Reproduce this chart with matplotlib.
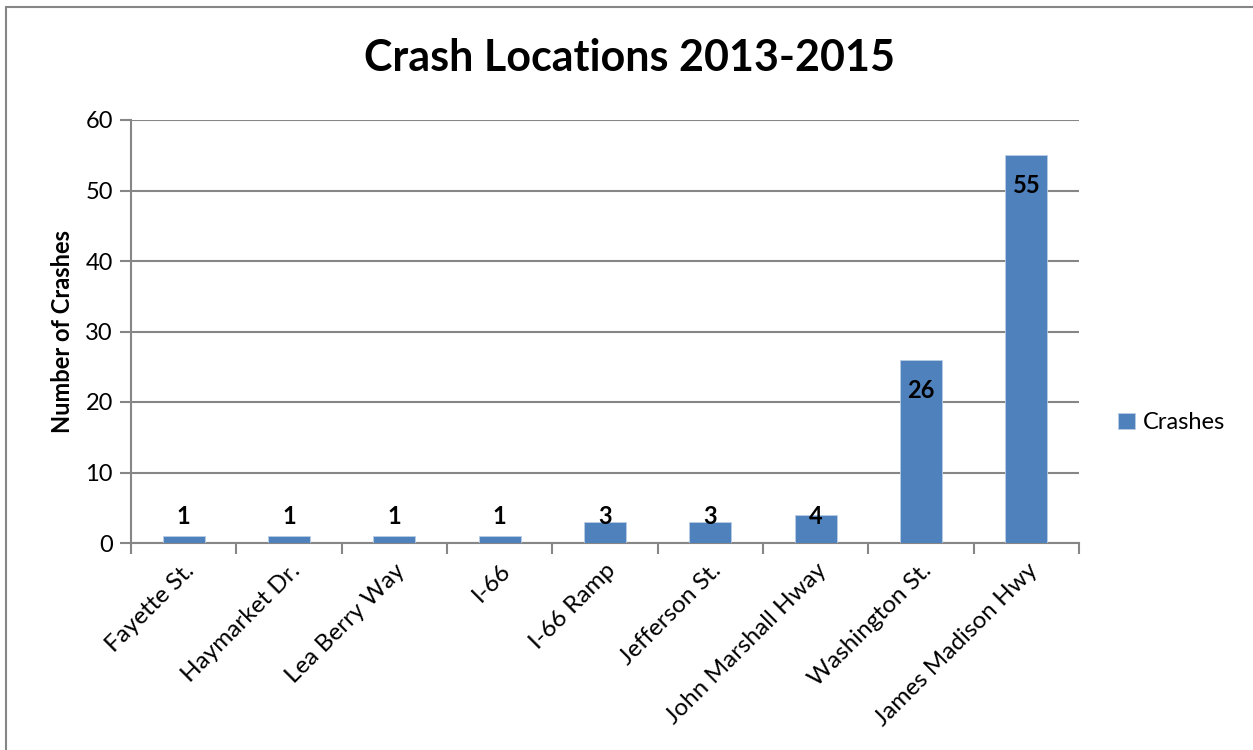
import matplotlib
matplotlib.use("Agg")
import matplotlib.pyplot as plt
from matplotlib.patches import Rectangle
import numpy as np

categories = ["Fayette St.", "Haymarket Dr.", "Lea Berry Way", "I-66", "I-66 Ramp",
              "Jefferson St.", "John Marshall Hway", "Washington St.", "James Madison Hwy"]
crashes = [1, 1, 1, 1, 3, 3, 4, 26, 55]
yticks = [0, 10, 20, 30, 40, 50, 60]

plt.rcParams['font.family'] = ['Lato', 'DejaVu Sans']

W, H = 1253, 750
fig = plt.figure(figsize=(W / 100, H / 100), dpi=100)
ax = fig.add_axes([131 / W, (H - 543) / H, (1079 - 131) / W, (543 - 120) / H])

grid_c = "#868686"
bar_c = "#4F81BD"
x = np.arange(len(categories))
bars = ax.bar(x, crashes, width=0.4, color=bar_c, edgecolor="#B9CDE5", linewidth=0.6,
              label="Crashes", zorder=3)

ax.set_xlim(-0.5, len(categories) - 0.5)
ax.set_ylim(0, 60)
ax.set_yticks(yticks)
ax.set_yticklabels([str(v) for v in yticks], fontsize=17)
ax.yaxis.grid(True, color=grid_c, linewidth=1.5, zorder=0)
ax.tick_params(axis='y', length=8, width=1.5, color=grid_c, pad=5)

ax.set_xticks(x)
ax.set_xticklabels(categories, rotation=45, ha='right', rotation_mode='anchor', fontsize=17.5)
ax.tick_params(axis='x', length=0, pad=12)
ax.set_xticks(np.arange(len(categories) + 1) - 0.5, minor=True)
ax.tick_params(axis='x', which='minor', length=8, width=1.5, color=grid_c)

for s in ['top', 'right']:
    ax.spines[s].set_visible(False)
for s in ['left', 'bottom']:
    ax.spines[s].set_color(grid_c)
    ax.spines[s].set_linewidth(1.5)

for xi, v in zip(x, crashes):
    ypos = max(v - 4.3, 3.7)
    ax.text(xi, ypos, str(v), ha='center', va='center', fontsize=17, fontweight='bold',
            color='black', zorder=4)

ax.set_ylabel("Number of Crashes", fontsize=17, fontweight='bold', labelpad=8)

fig.text(629 / W, 1 - 58 / H, "Crash Locations 2013-2015", ha='center', va='center',
         fontsize=31, fontweight='bold')

leg = ax.legend(loc='center left', bbox_to_anchor=(1097 / W, 1 - 423 / H),
                bbox_transform=fig.transFigure, frameon=False, fontsize=17,
                handlelength=0.7, handleheight=0.7, handletextpad=0.35)

fig.patches.append(Rectangle((6 / W, -0.1), 1.2, 1 - 7 / H + 0.1, transform=fig.transFigure,
                             fill=False, edgecolor="#868686", linewidth=1.5))

fig.savefig("out.png", dpi=100)
